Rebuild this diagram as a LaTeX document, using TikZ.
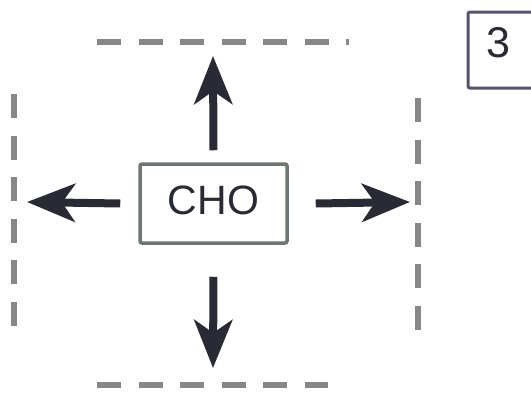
\documentclass[tikz,border=0pt]{standalone}
\usepackage{fontspec}
\setmainfont{Liberation Sans}
\usetikzlibrary{arrows.meta}
\definecolor{inkdark}{HTML}{2A2A35}
\definecolor{dashgray}{HTML}{878787}
\definecolor{chogreen}{HTML}{6B786E}
\definecolor{slateframe}{HTML}{57536E}

\begin{document}
\begin{tikzpicture}[x=1pt,y=-1pt,
  fence/.style={line width=6pt,dashgray,dash pattern=on 24pt off 17.5pt},
  bigarrow/.style={line width=8pt,inkdark,-{Stealth[length=48pt,width=38pt,inset=13pt]}},
  chobox/.style={draw=chogreen,line width=3.5pt,rounded corners=2pt,fill=white,
    minimum width=147pt,minimum height=79pt,text=inkdark,text depth=6pt,
    font=\fontsize{41}{46}\selectfont}]
\useasboundingbox (0,0) rectangle (531,392);
% dashed fence
\draw[fence] (97,42) to (349,42);
\draw[fence] (97,385) to (328,385);
\draw[fence] (14,94) to (14,328);
\draw[fence] (418,98) to (418,332);
% centre box
\node[chobox] (cho) at (213.5,203.5) {CHO};
% arrows
\coordinate (uptip) at (213,56);
\coordinate (downtip) at (213,368);
\coordinate (lefttip) at (27,202);
\coordinate (righttip) at (410,202);
\draw[bigarrow] ([yshift=12]cho.north) to (uptip);
\draw[bigarrow] ([yshift=-32]cho.south) to (downtip);
\draw[bigarrow] ([xshift=-18]cho.west) to (lefttip);
\draw[bigarrow] ([xshift=27]cho.east) to (righttip);
% step number
\node[text=inkdark,font=\fontsize{43}{48}\selectfont] (num) at (498,43) {3};
\draw[slateframe,line width=3pt,rounded corners=2pt] (545,12) -| (468,88) -- (545,88);
\end{tikzpicture}
\end{document}
